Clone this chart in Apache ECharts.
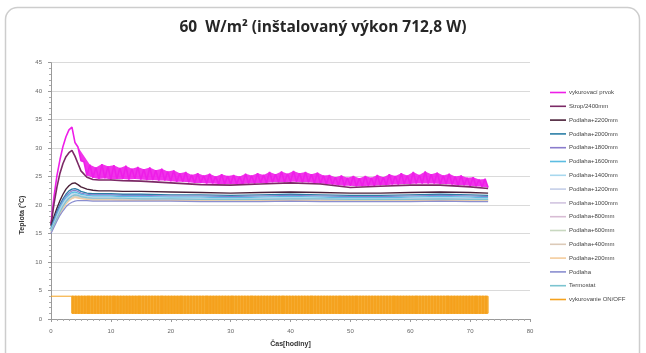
<!DOCTYPE html>
<html>
<head>
<meta charset="utf-8">
<script src="https://cdn.jsdelivr.net/npm/echarts@6/dist/echarts.min.js"></script>
<style>
  html, body { margin: 0; padding: 0; background: #ffffff; }
  #chart { width: 646px; height: 353px; }
</style>
</head>
<body>
<div id="chart"></div>
<script>
// Sampling times (hours) shared by the room / floor sensors
const hours = [0,0.5,1,1.5,2,2.5,3,3.5,4,4.5,5,6,7,8,10,12,15,20,25,30,35,40,45,50,55,60,65,70,73];

// Heating element temperature, logged every half hour from t = 0
const heaterElementStep = 0.5;
const heaterElement = [
  16.7,21.5,25.2,28.0,30.3,32.0,33.2,33.7,31.0,30.2,27.8,27.6,25.2,
  27.1,24.8,26.6,24.6,27.2,24.7,26.8,24.5,27.0,24.6,
  26.5,24.6,26.9,24.5,26.4,24.6,26.7,24.5,26.3,24.4,
  26.6,24.4,26.1,24.3,26.4,24.3,25.9,24.2,26.1,24.1,
  25.6,24.1,25.8,24.0,25.3,23.9,25.6,23.9,25.2,23.8,
  25.5,23.8,25.0,23.7,25.4,23.7,25.1,23.7,25.3,23.7,
  25.0,23.7,25.5,23.8,25.2,23.8,25.6,23.9,25.3,23.9,
  25.8,24.0,25.4,24.0,25.9,24.0,25.5,24.1,26.0,24.1,
  25.6,24.0,25.8,24.0,25.4,23.9,25.7,23.8,25.2,23.7,
  25.3,23.6,24.9,23.5,25.2,23.4,24.8,23.4,25.1,23.3,
  24.7,23.3,25.1,23.4,24.8,23.4,25.3,23.5,24.9,23.5,
  25.4,23.6,25.1,23.6,25.6,23.7,25.2,23.7,25.8,23.8,
  25.3,23.8,25.9,23.8,25.4,23.8,25.7,23.7,25.2,23.7,
  25.5,23.6,25.0,23.5,25.2,23.5,24.8,23.4,24.9,23.3,
  24.5,23.2,24.6,23.1
];
// From this sample on the element reading oscillates with the thermostat cycling
const heaterCyclingFrom = 8;

const ceiling2400 = [16.5,20.2,23.2,25.6,27.3,28.5,29.2,29.6,28.6,27.3,26.0,24.9,24.5,24.4,24.4,24.3,24.2,23.9,23.6,23.5,23.7,23.9,23.7,23.1,23.3,23.5,23.5,23.2,22.9];
const floor2200 = [16.3,18.0,19.5,20.8,21.9,22.8,23.4,23.8,23.9,23.6,23.2,22.8,22.6,22.5,22.5,22.4,22.4,22.3,22.2,22.1,22.2,22.3,22.2,22.1,22.1,22.2,22.3,22.2,22.1];
const floor2000 = [16.0,17.5,18.9,20.1,21.1,21.9,22.5,22.8,22.9,22.7,22.4,22.1,22.0,22.0,22.0,21.9,21.9,21.8,21.8,21.7,21.8,21.9,21.8,21.7,21.7,21.8,21.9,21.8,21.7];
const floor1800 = [15.8,17.2,18.6,19.8,20.8,21.6,22.1,22.5,22.6,22.4,22.1,21.9,21.8,21.8,21.8,21.7,21.7,21.6,21.6,21.5,21.6,21.7,21.6,21.5,21.5,21.6,21.7,21.6,21.5];
const floor1600 = [15.7,17.0,18.3,19.5,20.5,21.3,21.8,22.2,22.3,22.1,21.9,21.7,21.6,21.6,21.6,21.5,21.5,21.4,21.4,21.3,21.4,21.5,21.4,21.3,21.3,21.4,21.5,21.4,21.3];
const floor1400 = [15.6,16.8,18.1,19.3,20.3,21.1,21.6,22.0,22.1,21.9,21.7,21.5,21.4,21.4,21.4,21.3,21.3,21.2,21.2,21.1,21.2,21.3,21.2,21.1,21.1,21.2,21.3,21.2,21.1];
const floor1200 = [15.5,16.7,17.9,19.1,20.1,20.9,21.4,21.8,21.9,21.8,21.6,21.4,21.3,21.3,21.3,21.2,21.2,21.1,21.1,21.0,21.1,21.2,21.1,21.0,21.0,21.1,21.2,21.1,21.0];
const floor1000 = [15.4,16.6,17.8,18.9,19.9,20.7,21.3,21.6,21.7,21.6,21.5,21.3,21.2,21.2,21.2,21.1,21.1,21.0,21.0,20.9,21.0,21.1,21.0,20.9,20.9,21.0,21.1,21.0,20.9];
const floor800 = [15.3,16.5,17.6,18.7,19.7,20.5,21.1,21.4,21.6,21.5,21.4,21.2,21.1,21.1,21.1,21.0,21.0,20.9,20.9,20.8,20.9,21.0,20.9,20.8,20.8,20.9,21.0,20.9,20.8];
const floor600 = [15.2,16.4,17.5,18.6,19.5,20.3,20.9,21.3,21.5,21.4,21.3,21.1,21.0,21.0,21.0,20.9,20.9,20.8,20.8,20.8,20.8,20.9,20.8,20.8,20.8,20.8,20.9,20.8,20.8];
const floor400 = [15.1,16.3,17.4,18.5,19.4,20.2,20.8,21.2,21.4,21.3,21.2,21.0,20.9,20.9,20.9,20.9,20.8,20.8,20.8,20.7,20.8,20.8,20.8,20.7,20.7,20.8,20.8,20.8,20.7];
const floor200 = [15.1,16.3,17.4,18.4,19.3,20.1,20.7,21.1,21.3,21.2,21.1,21.0,20.9,20.9,20.9,20.8,20.8,20.8,20.7,20.7,20.7,20.8,20.7,20.7,20.7,20.7,20.8,20.7,20.7];
const floorSurface = [15.0,16.1,17.2,18.2,19.0,19.7,20.2,20.5,20.7,20.8,20.8,20.8,20.7,20.7,20.7,20.7,20.7,20.7,20.6,20.6,20.6,20.7,20.6,20.6,20.6,20.6,20.7,20.6,20.6];
const thermostat = [15.5,16.6,17.7,18.8,19.8,20.6,21.2,21.6,21.8,21.7,21.5,21.3,21.2,21.2,21.2,21.2,21.1,21.1,21.0,21.0,21.0,21.1,21.1,21.0,21.0,21.0,21.1,21.0,21.0];

// Heating ON/OFF signal: constantly on until the first switch, then a 15-minute log of states
const heatingOnLevel = 4;
const heatingOffLevel = 1;
const heatingFirstSwitch = 3.5;
const heatingStep = 0.25;
const heatingStates =
  "1010101010" + "1101010101" + "0101010110" + "1010101010" + "1010110101" +
  "0101010101" + "1010101010" + "1011010101" + "0101010101" + "1010101010" +
  "1010101101" + "0101010101" + "1010101010" + "1010101010" + "1101010101" +
  "0101010101" + "1010101010" + "1010101011" + "0101010101" + "1010101010" +
  "1010101010" + "1010110101" + "0101010101" + "1010101010" + "1010101010" +
  "1101010101" + "0101010101" + "10101010";

// Axis ticks
const yMin = 0, yMax = 45, yStep = 5;
const xMin = 0, xMax = 80, xStep = 10;

const seriesDefs = [
  { name: 'vykurovací prvok',   color: '#ee1ee8', width: 1.6, element: true },
  { name: 'Strop/2400mm',       color: '#7c2a66', width: 1.6, values: ceiling2400 },
  { name: 'Podlaha+2200mm',     color: '#4a2038', width: 1.4, values: floor2200 },
  { name: 'Podlaha+2000mm',     color: '#2b7ea6', width: 1.4, values: floor2000 },
  { name: 'Podlaha+1800mm',     color: '#8a7ccc', width: 1.2, values: floor1800 },
  { name: 'Podlaha+1600mm',     color: '#5cbde2', width: 1.4, values: floor1600 },
  { name: 'Podlaha+1400mm',     color: '#a8d8ee', width: 1.0, values: floor1400 },
  { name: 'Podlaha+1200mm',     color: '#c4cfe8', width: 1.0, values: floor1200 },
  { name: 'Podlaha+1000mm',     color: '#d2c4e0', width: 1.0, values: floor1000 },
  { name: 'Podlaha+800mm',      color: '#d8bcd4', width: 1.0, values: floor800 },
  { name: 'Podlaha+600mm',      color: '#c8d8c0', width: 1.0, values: floor600 },
  { name: 'Podlaha+400mm',      color: '#dccab8', width: 1.0, values: floor400 },
  { name: 'Podlaha+200mm',      color: '#f4cc9c', width: 1.0, values: floor200 },
  { name: 'Podlaha',            color: '#8a8ed0', width: 1.2, values: floorSurface },
  { name: 'Termostat',          color: '#7cc4d0', width: 1.2, values: thermostat },
  { name: 'vykurovanie ON/OFF', color: '#f5a21e', width: 1.0, heating: true }
];

// ON/OFF items: [start, end, top, bottom, kind]; kind 0 = flat ON line, 1 = cycling envelope, 2 = ON interval
function heatingItems() {
  const items = [[0, heatingFirstSwitch, heatingOnLevel, heatingOnLevel, 0]];
  const end = heatingFirstSwitch + heatingStates.length * heatingStep;
  items.push([heatingFirstSwitch, end, heatingOnLevel, heatingOffLevel, 1]);
  for (let i = 0; i < heatingStates.length; i++) {
    if (heatingStates[i] === '1') {
      const t = heatingFirstSwitch + i * heatingStep;
      items.push([t, t + heatingStep, heatingOnLevel, heatingOffLevel, 2]);
    }
  }
  return items;
}

// Band polygon spanned by the peaks and troughs of the oscillating element reading
function elementBand(api) {
  const up = [], dn = [];
  const n = heaterElement.length;
  for (let i = heaterCyclingFrom; i < n; i++) {
    const p = [i * heaterElementStep, heaterElement[i]];
    if (i === heaterCyclingFrom || i === n - 1) { up.push(p); dn.push(p); continue; }
    if (heaterElement[i] > heaterElement[i - 1]) up.push(p); else dn.push(p);
  }
  return up.concat(dn.reverse()).map(function (p) { return api.coord(p); });
}

const series = [];
seriesDefs.forEach(function (d) {
  if (d.heating) {
    series.push({
      name: d.name,
      type: 'custom',
      data: heatingItems(),
      encode: { x: [0, 1], y: [2, 3] },
      itemStyle: { color: d.color },
      z: 3,
      renderItem: function (params, api) {
        const a = api.coord([api.value(0), api.value(2)]);
        const b = api.coord([api.value(1), api.value(3)]);
        const kind = api.value(4);
        if (kind === 0) {
          return {
            type: 'line',
            shape: { x1: a[0], y1: a[1], x2: b[0], y2: b[1] },
            style: { stroke: d.color, lineWidth: d.width }
          };
        }
        return {
          type: 'rect',
          shape: { x: a[0], y: a[1], width: b[0] - a[0], height: b[1] - a[1] },
          style: kind === 1
            ? { fill: '#f7b443', stroke: d.color, lineWidth: 1 }
            : { fill: d.color, stroke: d.color, lineWidth: d.width }
        };
      }
    });
    return;
  }
  if (d.element) {
    series.push({
      name: d.name,
      type: 'custom',
      data: [[heaterCyclingFrom * heaterElementStep, (heaterElement.length - 1) * heaterElementStep, 23, 31]],
      encode: { x: [0, 1], y: [2, 3] },
      itemStyle: { color: d.color },
      silent: true,
      z: 1,
      renderItem: function (params, api) {
        return {
          type: 'polygon',
          shape: { points: elementBand(api) },
          style: { fill: d.color, opacity: 0.9 }
        };
      }
    });
    series.push({
      name: d.name,
      type: 'line',
      data: heaterElement.map(function (v, i) { return [i * heaterElementStep, v]; }),
      symbol: 'none', showSymbol: false, animation: false,
      color: d.color,
      lineStyle: { color: d.color, width: d.width, join: 'bevel' },
      z: 1
    });
    return;
  }
  series.push({
    name: d.name,
    type: 'line',
    data: d.values.map(function (v, i) { return [hours[i], v]; }),
    symbol: 'none',
    showSymbol: false,
    animation: false,
    color: d.color,
    lineStyle: { color: d.color, width: d.width },
    z: 2
  });
});

const chart = echarts.init(document.getElementById('chart'), null, { renderer: 'canvas' });
chart.setOption({
  backgroundColor: '#ffffff',
  animation: false,
  title: {
    text: '60  W/m² (inštalovaný výkon 712,8 W)',
    left: 'center',
    top: 15,
    textStyle: { fontFamily: 'Open Sans', fontWeight: 'bold', fontSize: 15.5, color: '#262626' }
  },
  graphic: [
    {
      type: 'rect', silent: true, z: -10,
      shape: { x: 5.5, y: 7.5, width: 634, height: 370, r: 12 },
      style: { fill: 'none', stroke: '#cdcdcd', lineWidth: 1.5 }
    },
    {
      type: 'text', silent: true,
      x: 22, y: 215, rotation: Math.PI / 2,
      style: { text: 'Teplota (°C)', fill: '#333', font: 'bold 7px "Liberation Sans"', align: 'center', verticalAlign: 'middle' }
    }
  ],
  legend: {
    orient: 'vertical',
    left: 545,
    top: 84,
    icon: 'rect',
    itemWidth: 16,
    itemHeight: 1.6,
    itemGap: 6.8,
    data: seriesDefs.map(function (d) { return d.name; }),
    textStyle: { fontFamily: 'Liberation Sans', fontSize: 6, color: '#444', lineHeight: 7, padding: [0, 0, 0, -2] }
  },
  grid: { left: 51, right: 116, top: 62.7, bottom: 29.7, containLabel: false },
  xAxis: {
    type: 'value',
    min: xMin, max: xMax, interval: xStep,
    name: 'Čas[hodiny]',
    nameLocation: 'middle',
    nameGap: 22,
    nameTextStyle: { fontFamily: 'Liberation Sans', fontSize: 7, fontWeight: 'bold', color: '#333' },
    axisLine: { lineStyle: { color: '#9a9a9a', width: 1 } },
    axisTick: { show: true, length: 3, lineStyle: { color: '#9a9a9a' } },
    minorTick: { show: true, splitNumber: 10, length: 2, lineStyle: { color: '#aaaaaa' } },
    splitLine: { show: false },
    axisLabel: { fontFamily: 'Liberation Sans', fontSize: 6, color: '#666', margin: 9 }
  },
  yAxis: {
    type: 'value',
    min: yMin, max: yMax, interval: yStep,
    axisLine: { show: true, lineStyle: { color: '#9a9a9a', width: 1 } },
    axisTick: { show: true, length: 3, lineStyle: { color: '#9a9a9a' } },
    minorTick: { show: true, splitNumber: 5, length: 2, lineStyle: { color: '#aaaaaa' } },
    splitLine: { show: true, lineStyle: { color: '#dadada', width: 1 } },
    axisLabel: { fontFamily: 'Liberation Sans', fontSize: 6, color: '#666', margin: 9 }
  },
  series: series
});
</script>
</body>
</html>
